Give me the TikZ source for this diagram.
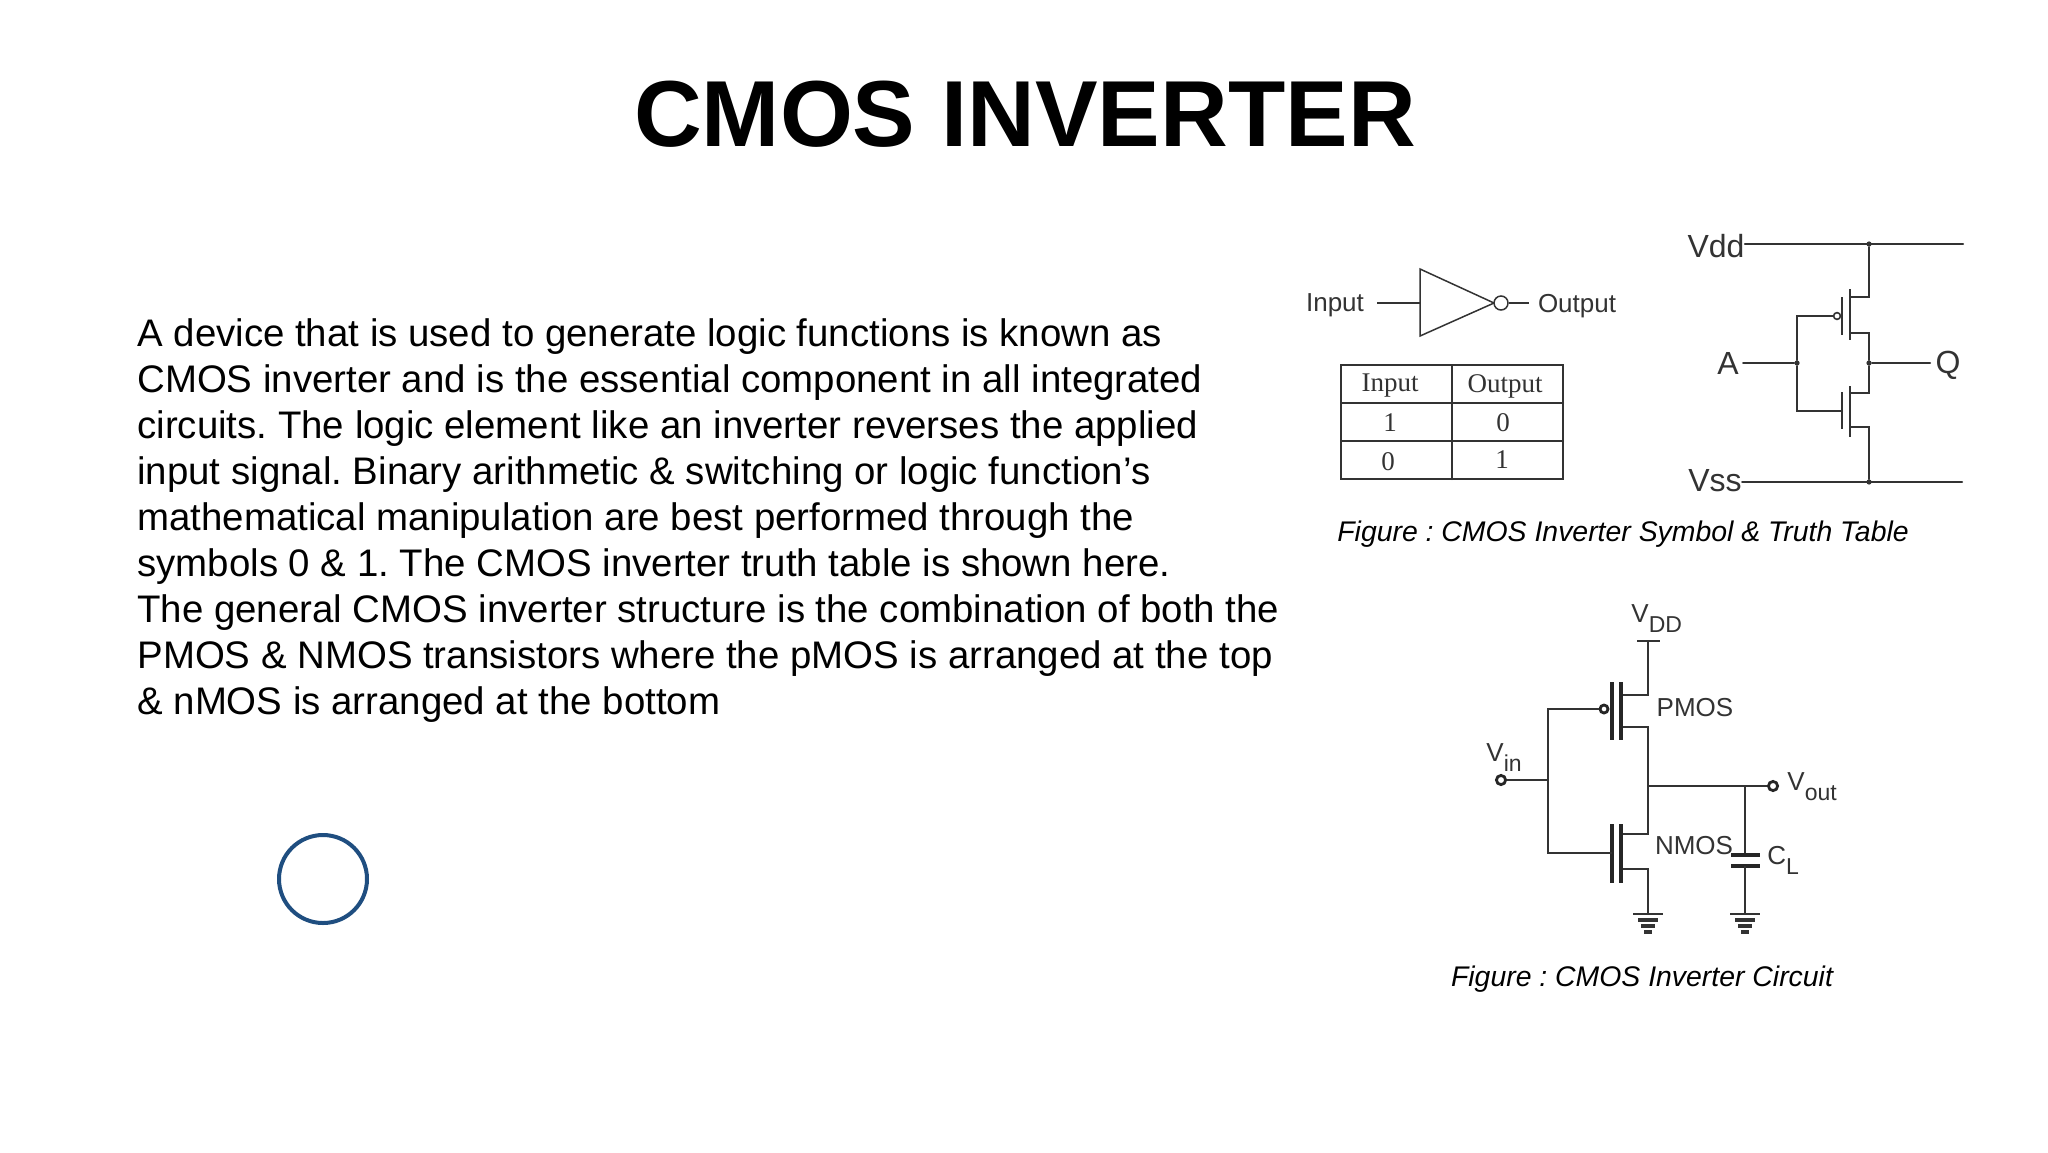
\documentclass[tikz,border=0pt]{standalone}
\usepackage{fontspec}
\setmainfont{Liberation Sans}
\newfontfamily\tblfont{Liberation Serif}
\usetikzlibrary{calc}
\definecolor{ink}{HTML}{333333}
\definecolor{ringblue}{HTML}{1F4E80}
\newcommand{\subtxt}[1]{\raisebox{-0.75ex}{\fontsize{11.5}{13}\selectfont #1}}
\tikzset{
  x=0.5pt,y=-0.5pt,
  wire/.style={draw=ink,line width=1pt,line cap=round,line join=miter},
  wirethin/.style={draw=ink,line width=0.75pt},
  bar/.style={draw=black!85,line width=2.1pt},
  bari/.style={draw=ink,line width=1.2pt},
  cwire/.style={draw=black!80,line width=1.2pt},
  gbar/.style={draw=black!80,line width=1.7pt},
  bubble/.style={circle,draw=ink,fill=white,line width=0.75pt,inner sep=0pt,minimum size=7pt},
  port/.style={circle,draw=black!85,fill=white,line width=1.4pt,inner sep=0pt,minimum size=4.6pt},
  dot/.style={circle,fill=ink,inner sep=0pt,minimum size=2.6pt},
  lab/.style={text=ink,inner sep=0pt,font=\fontsize{13}{15}\selectfont},
  labb/.style={text=ink,inner sep=0pt,font=\fontsize{16}{18}\selectfont},
  tlab/.style={text=ink,inner sep=0pt,font=\tblfont\fontsize{13.5}{15}\selectfont},
  figcap/.style={inner sep=0pt,anchor=base,font=\itshape\frenchspacing\fontsize{14.2}{16}\selectfont},
}
\begin{document}
\begin{tikzpicture}
\useasboundingbox (0,0) rectangle (2048,1152);
\fill[white] (0,0) rectangle (2048,1152);
\node[inner sep=0pt,anchor=base,font=\bfseries\fontsize{46.9}{50}\selectfont] (title) at (1025,146) {CMOS INVERTER};
\node[inner sep=0pt,anchor=north west,align=left,font=\frenchspacing\fontsize{19.2}{23}\selectfont] (body) at (137,318) {%
A device that is used to generate logic functions is known as\\
CMOS inverter and is the essential component in all integrated\\
circuits. The logic element like an inverter reverses the applied\\
input signal. Binary arithmetic \& switching or logic function’s\\
mathematical manipulation are best performed through the\\
symbols 0 \& 1. The CMOS inverter truth table is shown here.\\
The general CMOS inverter structure is the combination of both the\\
PMOS \& NMOS transistors where the pMOS is arranged at the top\\
\& nMOS is arranged at the bottom};
\node[circle,draw=ringblue,line width=2pt,fill=white,minimum size=44pt,inner sep=0pt] (ring) at (323,879) {};
% inverter symbol
\node[lab] (invin) at (1335,305) {Input};
\node[lab] (invout) at (1577,306) {Output};
\coordinate (ta) at (1420,269); \coordinate (tb) at (1420,336); \coordinate (tc) at (1494,303);
\coordinate (ti) at (1420,303); \coordinate (il) at (1377,303); \coordinate (ol) at (1529,303);
\draw[wirethin,line join=miter] (ta) -- (tc) -- (tb) -- cycle;
\node[bubble] (invb) at (1501,303) {};
\draw[wirethin] (il) -- (ti);
\draw[wirethin] (invb) -- (ol);
% truth table
\coordinate (t00) at (1341,365); \coordinate (t22) at (1563,479);
\draw[wire] (t00) rectangle (t22);
\foreach \yy in {403,441} \draw[wire] (1341,\yy) -- (1563,\yy);
\draw[wire] (1452,365) -- (1452,479);
\node[tlab] (h1) at (1390,386) {Input};
\node[tlab] (h2) at (1505,386) {Output};
\node[tlab] (r11) at (1390,423) {1};
\node[tlab] (r12) at (1503,423) {0};
\node[tlab] (r21) at (1388,462) {0};
\node[tlab] (r22) at (1502,460) {1};
% gate-level schematic (top right)
\node[labb] (vdd) at (1716,246) {Vdd};
\node[labb] (vss) at (1715,481) {Vss};
\node[labb] (ain) at (1728,363) {A};
\node[labb] (qout) at (1948,365) {Q};
\coordinate (vddr) at (1963,244); \coordinate (vssr) at (1962,482);
\node[dot] (jtop) at (1869,244) {};
\node[dot] (jbot) at (1869,482) {};
\node[dot] (jq) at (1869,363) {};
\node[dot] (ja) at (1797,363) {};
\draw[wire] (vdd.east) ++(0,-2) -- (vddr);
\draw[wire] (vss.east) ++(0,1) -- (vssr);
\draw[wire] (ain.east) ++(4,0) -- (ja);
\draw[wire] (jq) -- ($(qout.west)+(-5,-2)$);
\draw[wire] (jtop) |- (1850,297);
\draw[wire] (1850,333) -| (jq);
\draw[wire] (jq) |- (1850,393);
\draw[wire] (1850,427) -| (jbot);
\draw[bari] (1850,289) -- (1850,340);
\draw[bari] (1842,297) -- (1842,335);
\draw[bari] (1850,386) -- (1850,437);
\draw[bari] (1842,392) -- (1842,429);
\node[circle,draw=ink,fill=white,line width=0.8pt,inner sep=0pt,minimum size=3.4pt] (pb1) at (1837,316) {};
\draw[wire] (pb1) -- (1797,316) -- (ja);
\draw[wire] (ja) |- (1842,411);
\node[figcap] (cap1) at (1623,541) {Figure : CMOS Inverter Symbol \& Truth Table};
% circuit (bottom right)
\node[lab,anchor=base west] (cvdd) at (1631,622) {V\subtxt{DD}};
\node[lab,anchor=base west] (cvin) at (1486,761) {V\subtxt{in}};
\node[lab,anchor=base west] (cvout) at (1787,790) {V\subtxt{out}};
\node[lab,anchor=base west] (ccl) at (1767,864) {C\subtxt{L}};
\node[lab] (pmos) at (1695,708) {PMOS};
\node[lab] (nmos) at (1694,846) {NMOS};
\coordinate (vb1) at (1637,641); \coordinate (vb2) at (1660,641); \coordinate (vbm) at (1648,641);
\draw[cwire] (vb1) -- (vb2);
\draw[cwire] (vbm) |- (1623,695);
\draw[bar] (1621,682) -- (1621,740);
\draw[bar] (1612,682) -- (1612,740);
\draw[cwire] (1623,727) -| (1648,834) -- (1623,834);
\draw[bar] (1621,824) -- (1621,883);
\draw[bar] (1612,824) -- (1612,883);
\draw[cwire] (1623,869) -| (1648,914);
\node[port,minimum size=4pt] (cb) at (1604,709) {};
\draw[cwire] (cb) -- (1548,709) -- (1548,853) -- (1612,853);
\node[port] (pin) at (1501,780) {};
\draw[cwire] (pin) -- (1548,780);
\node[port] (pout) at (1773,786) {};
\draw[cwire] (1648,786) -- (pout);
\coordinate (cj) at (1745,786);
\draw[cwire] (cj) -- (1745,855);
\draw[bar] (1731,855) -- (1760,855);
\draw[bar] (1731,866) -- (1760,866);
\draw[cwire] (1745,866) -- (1745,914);
\foreach \cx in {1648,1745}{
  \draw[cwire] (\cx-15,914) -- (\cx+15,914);
  \draw[gbar] (\cx-10,920) -- (\cx+10,920);
  \draw[gbar] (\cx-7,926) -- (\cx+7,926);
  \draw[gbar] (\cx-4,932) -- (\cx+4,932);
}
\node[figcap] (cap2) at (1642,986) {Figure : CMOS Inverter Circuit};
\end{tikzpicture}
\end{document}
